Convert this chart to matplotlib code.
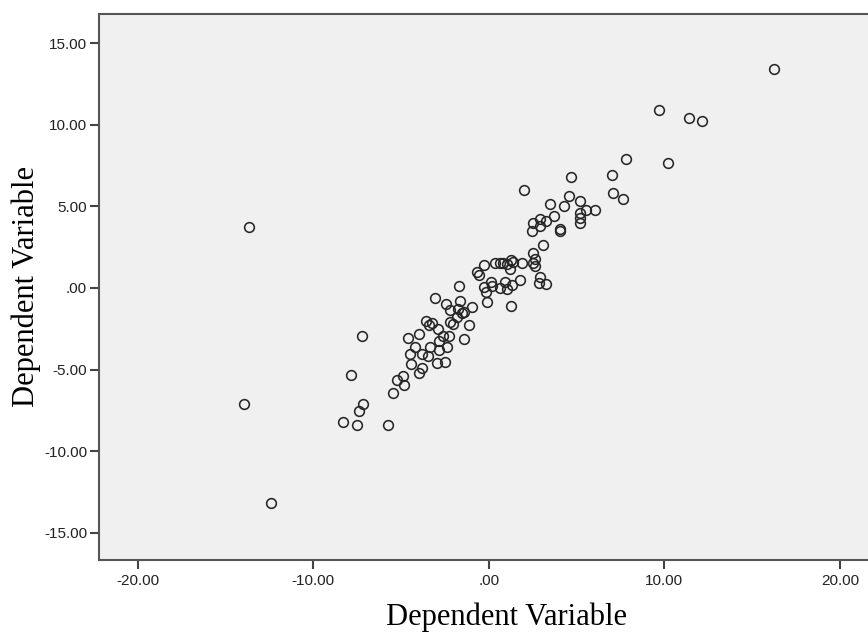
import matplotlib.pyplot as plt
from matplotlib.ticker import FuncFormatter

# Valeurs (axe x, axe y)
x_vals = [16.25, 9.71, 11.43, 12.13, 7.83, 10.21, 7.03, 7.07, 7.64, 6.04,
          5.55, 5.17, 4.66, 4.56, 4.28, 3.50, 1.98, 5.17, 5.17, 5.17,
          3.71, 2.51, 2.93, 3.23, 2.93, 2.47, 4.03, 4.08, 3.08, 2.51,
          2.61, 2.51, 2.61, 2.89, 2.85, 3.23, 1.90, 1.75, 1.28, 1.37,
          1.18, 1.03, 0.80, 0.61, 0.38, -0.29, -0.65, -0.55, 0.61, 0.90,
          1.03, 1.33, 0.10, 0.19, -0.25, -0.15, -0.11, 1.28, -1.71, -1.62,
          -0.97, -1.39, -1.52, -1.73, -1.80, -2.22, -2.45, -3.06, -1.10, -1.43,
          -2.20, -2.05, -2.28, -2.39, -2.62, -2.85, -2.85, -2.94, -2.47, -2.88,
          -3.57, -3.25, -3.38, -3.34, -3.48, -3.80, -3.99, -4.58, -4.20, -4.46,
          -4.43, -3.82, -3.99, -4.86, -4.82, -5.25, -5.47, -5.76, -7.24, -7.83,
          -7.18, -7.39, -8.32, -7.53, -13.63, -13.97, -12.43]
y_vals = [13.39, 10.89, 10.39, 10.22, 7.89, 7.65, 6.91, 5.79, 5.42, 4.77,
          4.77, 5.32, 6.77, 5.62, 5.01, 5.13, 5.99, 4.60, 4.30, 3.95,
          4.40, 3.99, 4.20, 4.11, 3.79, 3.50, 3.58, 3.50, 2.62, 2.11,
          1.75, 1.50, 1.36, 0.68, 0.31, 0.21, 1.54, 0.50, 1.72, 1.60,
          1.15, 1.46, 1.54, 1.50, 1.54, 1.40, 0.96, 0.80, 0.01, 0.34,
          -0.09, 0.17, 0.34, 0.11, 0.07, -0.24, -0.88, -1.10, 0.13, -0.80,
          -1.18, -1.50, -1.56, -1.32, -1.77, -1.36, -0.97, -0.64, -2.28, -3.16,
          -2.08, -2.24, -2.93, -3.61, -2.95, -3.24, -3.81, -4.63, -4.55, -2.54,
          -2.03, -2.12, -2.28, -3.61, -4.18, -4.08, -2.81, -3.10, -3.61, -4.08,
          -4.65, -4.90, -5.20, -5.38, -5.94, -5.67, -6.43, -8.43, -2.97, -5.34,
          -7.14, -7.57, -8.24, -8.37, 3.71, -7.10, -13.17]

x_ticks = [-20, -10, 0, 10, 20]
y_ticks = [-15, -10, -5, 0, 5, 10, 15]
label_x = "Dependent Variable"
label_y = "Dependent Variable"


def format_spss(v, pos=None):
    """Format des graduations a la SPSS : 0 -> .00"""
    txt = "%.2f" % v
    if txt.startswith("0"):
        txt = txt[1:]
    elif txt.startswith("-0"):
        txt = "-" + txt[2:]
    return txt


fig = plt.figure(figsize=(8.68, 6.32), dpi=100)
# l'axe depasse a droite : le graphique d'origine est rogne
ax = fig.add_axes([99 / 868, 1 - 560 / 632, 814 / 868, 546 / 632])
ax.set_facecolor("#f0f0f0")

ax.plot(x_vals, y_vals, "o", markersize=7, markerfacecolor="none",
        markeredgecolor="#262626", markeredgewidth=1.15, linestyle="none")

ax.set_xlim(-22.2, 24.16)
ax.set_ylim(-16.67, 16.78)
ax.set_xticks(x_ticks)
ax.set_yticks(y_ticks)
ax.xaxis.set_major_formatter(FuncFormatter(format_spss))
ax.yaxis.set_major_formatter(FuncFormatter(format_spss))

for side in ["left", "bottom", "top", "right"]:
    ax.spines[side].set_color("#555555")
    ax.spines[side].set_linewidth(1.5)

ax.tick_params(direction="out", length=6.5, width=1.5, color="#444444",
               labelsize=11, labelcolor="#222222", pad=2)
ax.tick_params(axis="x", pad=3.5)
for lab in ax.get_xticklabels() + ax.get_yticklabels():
    lab.set_family("Liberation Sans")

ax.set_xlabel(label_x, family="Liberation Serif", fontsize=22, color="black")
ax.set_ylabel(label_y, family="Liberation Serif", fontsize=22, color="black")
ax.xaxis.label.set_va("baseline")
ax.yaxis.label.set_va("baseline")
ax.xaxis.set_label_coords(0.5, (560 - 625) / 546)
ax.yaxis.set_label_coords((34 - 99) / 814, 0.5)

plt.savefig("out.png", dpi=100)
